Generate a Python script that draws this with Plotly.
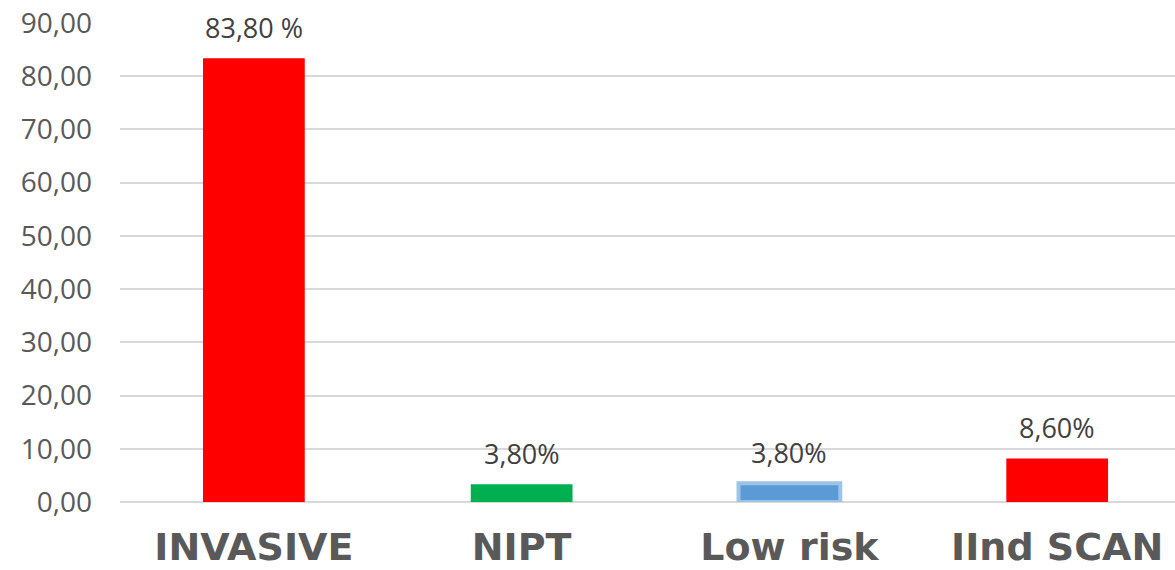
import plotly.graph_objects as go

categories = ["INVASIVE", "NIPT", "Low risk", "IInd SCAN"]
values = [83.4, 3.35, 3.5, 8.15]
value_labels = ["83,80 %", "3,80%", "3,80%", "8,60%"]
bar_colors = ["#FF0000", "#00B050", "#5B9BD5", "#FF0000"]
bar_line_colors = ["#FF0000", "#00B050", "#9DC3E6", "#FF0000"]
bar_line_widths = [0, 0, 4, 0]
y_ticks = [0, 10, 20, 30, 40, 50, 60, 70, 80, 90]

fig = go.Figure()
fig.add_trace(go.Bar(
    x=categories, y=values,
    marker=dict(color=bar_colors, line=dict(color=bar_line_colors, width=bar_line_widths)),
    width=0.38,
    hoverinfo="skip",
))

for c, v, t in zip(categories, values, value_labels):
    fig.add_annotation(x=c, y=v, text=t, showarrow=False, yanchor="middle", yshift=31,
                       font=dict(family="Open Sans", size=27, color="#404040"))

fig.update_layout(
    width=1175, height=570,
    margin=dict(l=120, r=0, t=23, b=68),
    paper_bgcolor="white", plot_bgcolor="white",
    separators=",.",
    showlegend=False,
    bargap=0.62,
)
fig.update_xaxes(
    range=[-0.5, 3.44],
    tickfont=dict(family="DejaVu Sans", size=38, color="#595959", weight="bold"),
    showgrid=False, showline=False, ticks="",
    ticklabelstandoff=19,
    automargin=False,
)
fig.update_yaxes(
    range=[0, 90], tickvals=y_ticks, tickformat=".2f",
    tickfont=dict(family="Open Sans", size=28, color="#595959"),
    showgrid=True, gridcolor="#D9D9D9", gridwidth=2,
    zeroline=True, zerolinecolor="#D9D9D9", zerolinewidth=2,
    showline=False, ticks="",
    ticklabelstandoff=27,
    automargin=False,
)

fig.write_html("out.html")
